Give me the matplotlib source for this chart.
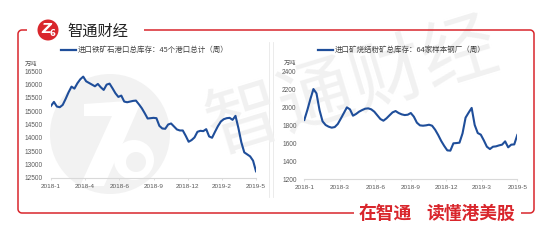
import matplotlib.pyplot as plt
import numpy as np
from matplotlib.patches import Circle, Polygon

W, H = 554, 244

# 进口铁矿石港口总库存：45个港口总计（周），万吨
port_stock = [
    15196, 15345, 15171, 15146, 15233, 15457, 15705, 15916, 15842, 16040,
    16190, 16290, 16115, 16053, 15991, 15929, 16016, 15891, 15792, 15991,
    16028, 15854, 15668, 15531, 15581, 15357, 15332, 15357, 15382, 15394,
    15258, 15109, 14923, 14724, 14736, 14749, 14736, 14450, 14351, 14339,
    14500, 14538, 14426, 14314, 14277, 14277, 14078, 13855, 13917, 14016,
    14227, 14264, 14252, 14326, 14053, 14004, 14227, 14438, 14612, 14699,
    14736, 14749, 14674, 14823, 14364, 13830, 13457, 13383, 13308, 13147,
    12750,
]
port_xlabels = ["2018-1", "2018-4", "2018-6", "2018-9", "2018-12", "2019-2", "2019-5"]
port_yticks = [12500, 13000, 13500, 14000, 14500, 15000, 15500, 16000, 16500]

# 进口矿烧结粉矿总库存：64家样本钢厂（周），万吨
mill_stock = [
    1860, 1971, 2094, 2206, 2158, 1971, 1845, 1804, 1785, 1774,
    1781, 1815, 1875, 1938, 2001, 1979, 1908, 1927, 1953, 1971,
    1986, 1990, 1979, 1953, 1912, 1871, 1852, 1878, 1912, 1945,
    1960, 1938, 1923, 1915, 1919, 1938, 1897, 1830, 1800, 1796,
    1800, 1807, 1796, 1751, 1692, 1625, 1569, 1520, 1517, 1599,
    1602, 1606, 1710, 1886, 1942, 1995, 1804, 1714, 1696, 1632,
    1561, 1535, 1561, 1565, 1576, 1584, 1621, 1554, 1584, 1587,
    1692,
]
mill_xlabels = ["2018-1", "2018-3", "2018-6", "2018-9", "2018-12", "2019-3", "2019-5"]
mill_yticks = [1200, 1400, 1600, 1800, 2000, 2200, 2400]

legend_left = "进口铁矿石港口总库存：45个港口总计（周）"
legend_right = "进口矿烧结粉矿总库存：64家样本钢厂（周）"

BLUE = "#1f4e9a"
RED = "#d9262c"
GREY_TXT = "#595959"
CJK = ["Noto Sans CJK SC", "DejaVu Sans"]

plt.rcParams["font.family"] = ["Liberation Sans", "Noto Sans CJK SC"]

fig = plt.figure(figsize=(W / 100, H / 100), dpi=100)
fig.patch.set_facecolor("white")

# background layer (watermarks), pixel coordinates
bg = fig.add_axes([0, 0, 1, 1], zorder=0)
bg.set_xlim(0, W)
bg.set_ylim(H, 0)
bg.axis("off")
bg.add_patch(Circle((110, 134), 60, color="#f2f2f2", lw=0))
bg.add_patch(Polygon([(84, 104), (142, 100), (104, 186), (80, 186), (112, 116), (84, 116)],
                     closed=True, color="white", lw=0))
bg.add_patch(Circle((134, 160), 20, color="white", lw=0))
bg.add_patch(Circle((136, 162), 10, color="#f2f2f2", lw=0))
bg.text(352, 88, "智通财经", fontsize=54, color="#f1f1f1", rotation=17,
        ha="center", va="center", family=CJK)
for x in (269, 273):
    bg.plot([x, x], [42, 197], color="#e8e8e8", lw=0.6)


def draw_panel(rect, values, xlabels, yticks, ylim, label_pad):
    ax = fig.add_axes(rect, zorder=1)
    ax.patch.set_alpha(0)
    n = len(values)
    ax.plot(range(n), values, color=BLUE, lw=1.5, solid_joinstyle="round")
    ax.set_xlim(0, n - 1)
    ax.set_ylim(*ylim)
    ax.set_xticks(np.linspace(0, n - 1, len(xlabels)))
    ax.set_xticklabels(xlabels)
    ax.set_yticks(yticks)
    ax.set_yticklabels([str(t) for t in yticks])
    for s in ("top", "right", "left"):
        ax.spines[s].set_visible(False)
    ax.spines["bottom"].set_color("#d9d9d9")
    ax.spines["bottom"].set_linewidth(0.8)
    ax.tick_params(axis="x", length=1.5, width=0.6, color="#d9d9d9",
                   labelsize=4.6, labelcolor=GREY_TXT, pad=3)
    ax.tick_params(axis="y", length=0, labelsize=4.7, labelcolor=GREY_TXT, pad=label_pad)
    return ax


draw_panel([51 / W, 1 - 178 / H, 205 / W, 107 / H], port_stock, port_xlabels,
           port_yticks, (12500, 16500), 6)
draw_panel([304.3 / W, 1 - 179 / H, 213 / W, 107.3 / H], mill_stock, mill_xlabels,
           mill_yticks, (1200, 2400), 5.5)

# foreground layer: legends, units, frame, logo, slogan
fg = fig.add_axes([0, 0, 1, 1], zorder=2)
fg.set_xlim(0, W)
fg.set_ylim(H, 0)
fg.axis("off")
fg.patch.set_alpha(0)

fg.plot([61, 76], [50, 50], color=BLUE, lw=1.6)
fg.text(78, 50, legend_left, fontsize=5.4, color="#404040", va="center", family=CJK)
fg.plot([318, 333], [50, 50], color=BLUE, lw=1.6)
fg.text(335, 50, legend_right, fontsize=5.4, color="#404040", va="center", family=CJK)
fg.text(31.5, 64, "万吨", fontsize=4.5, color=GREY_TXT, ha="center", va="center", family=CJK)
fg.text(290, 63, "万吨", fontsize=4.5, color=GREY_TXT, ha="center", va="center", family=CJK)


def corner(cx, cy, r, a0, a1):
    t = np.radians(np.linspace(a0, a1, 12))
    return list(cx + r * np.cos(t)), list(cy + r * np.sin(t))


# left part of frame: top stub, left edge, bottom line up to slogan
xs, ys = [27], [30]
cx, cy = corner(22, 34, 4, 270, 180)
xs += cx; ys += cy
cx, cy = corner(22, 209, 4, 180, 90)
xs += cx; ys += cy
xs.append(354); ys.append(213)
fg.plot(xs, ys, color=RED, lw=1.1, solid_capstyle="butt")

# right part: stub after slogan, right edge, top line back to logo
xs, ys = [521], [213]
cx, cy = corner(530, 209, 4, 90, 0)
xs += cx; ys += cy
cx, cy = corner(530, 34, 4, 0, -90)
xs += cx; ys += cy
xs.append(144); ys.append(30)
fg.plot(xs, ys, color=RED, lw=1.1, solid_capstyle="butt")

# header logo
fg.add_patch(Circle((48, 30), 10.5, color=RED, lw=0))
fg.text(46, 29, "Z", fontsize=10, color="white", fontweight="bold", style="italic",
        ha="center", va="center", family="DejaVu Sans")
fg.text(52.5, 33, "6", fontsize=6, color="white", fontweight="bold",
        ha="center", va="center", family="DejaVu Sans")
fg.text(67, 31, "智通财经", fontsize=11, color="#222222", va="center", family=CJK)

# slogan
fg.text(385.5, 214, "在智通", fontsize=12.8, color=RED, fontweight="bold",
        ha="center", va="center", family=CJK)
fg.text(471, 214, "读懂港美股", fontsize=12.8, color=RED, fontweight="bold",
        ha="center", va="center", family=CJK)

fig.savefig("out.png", dpi=100, facecolor="white")
